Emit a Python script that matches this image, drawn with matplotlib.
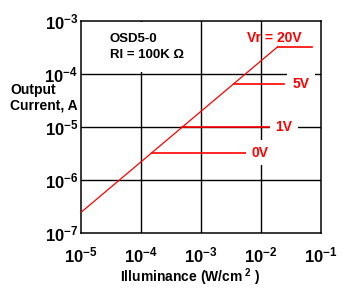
import matplotlib
matplotlib.use("Agg")
import matplotlib.pyplot as plt

plt.rcParams["font.family"] = ["Liberation Sans", "DejaVu Sans"]
plt.rcParams["font.weight"] = "bold"
plt.rcParams["mathtext.fontset"] = "custom"
plt.rcParams["mathtext.rm"] = "Liberation Sans:bold"
plt.rcParams["mathtext.it"] = "Liberation Sans:bold"
plt.rcParams["mathtext.bf"] = "Liberation Sans:bold"

# photocurrent response (linear region), log-log
resp_x = [1e-5, 0.019]
resp_y = [2.45e-7, 3.27e-4]

# saturation levels for each reverse bias
bias_labels = ["Vr = 20V", "5V", "1V", "0V"]
sat_level = [3.27e-4, 6.4e-5, 1.0e-5, 3.3e-6]
sat_start = [0.019, 3.5e-3, 4.9e-4, 1.55e-4]
sat_end = [0.07, 0.024, 0.0138, 5.9e-3]
label_x = [0.0165, 0.046, 0.024, 0.0096]
label_y = [4.8e-4, 6.4e-5, 1.0e-5, 3.3e-6]

x_ticks = [1e-5, 1e-4, 1e-3, 1e-2, 1e-1]
x_ticklabels = ["$10^{-5}$", "$10^{-4}$", "$10^{-3}$", "$10^{-2}$", "$10^{-1}$"]
y_ticks = [1e-7, 1e-6, 1e-5, 1e-4, 1e-3]
y_ticklabels = ["$10^{-7}$", "$10^{-6}$", "$10^{-5}$", "$10^{-4}$", "$10^{-3}$"]

fig = plt.figure(figsize=(3.56, 3.04), dpi=100)
ax = fig.add_axes([81 / 356, 1 - 233 / 304, 240 / 356, 212 / 304])
ax.set_xscale("log")
ax.set_yscale("log")
ax.set_xlim(1e-5, 1e-1)
ax.set_ylim(1e-7, 1e-3)
ax.minorticks_off()

for v in x_ticks[1:-1]:
    ax.axvline(v, color="black", lw=1.0, zorder=1)
for v in y_ticks[1:-1]:
    ax.axhline(v, color="black", lw=1.0, zorder=1)

ax.plot(resp_x, resp_y, color="red", lw=0.9, zorder=3)
for lvl, s, e in zip(sat_level, sat_start, sat_end):
    ax.plot([s, e], [lvl, lvl], color="red", lw=1.2, zorder=3)

for i, (t, lx, ly) in enumerate(zip(bias_labels, label_x, label_y)):
    box = None if i == 0 else dict(facecolor="white", edgecolor="none", pad=4)
    ax.text(lx, ly, t, color="red", fontsize=10, ha="center", va="center",
            bbox=box, zorder=4)

ax.text(3.0e-5, 6.0e-4, "OSD5-0\nRl = 100K Ω", fontsize=9.5, ha="left", va="top",
        linespacing=1.5, zorder=4,
        bbox=dict(facecolor="white", edgecolor="none", boxstyle="square,pad=0.8"))

ax.set_xticks(x_ticks)
ax.set_xticklabels(x_ticklabels, fontsize=12)
ax.set_yticks(y_ticks)
ax.set_yticklabels(y_ticklabels, fontsize=12)
ax.tick_params(axis="both", length=0)
ax.tick_params(axis="x", pad=9)
ax.tick_params(axis="y", pad=2)
for sp in ax.spines.values():
    sp.set_linewidth(1.1)

fig.text(10 / 356, 1 - 98 / 304, "Output\nCurrent, A", fontsize=10,
         ha="left", va="center", linespacing=1.1)
fig.text(190 / 356, 1 - 277 / 304, "Illuminance (W/cm$^{\\ 2}$ )", fontsize=10,
         ha="center", va="center")

fig.savefig("out.png", dpi=100)
